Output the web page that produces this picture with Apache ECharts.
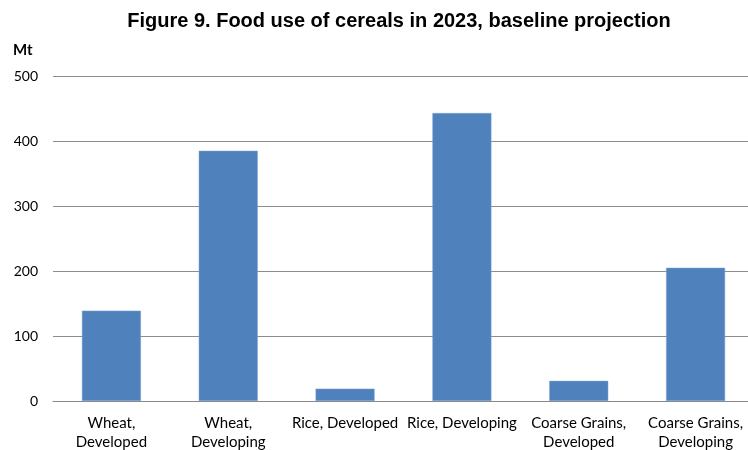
<!DOCTYPE html>
<html><head><meta charset="utf-8">
<script src="https://cdn.jsdelivr.net/npm/echarts@6/dist/echarts.min.js"></script>
<style>html,body{margin:0;padding:0;background:#fff}#c{width:748px;height:450px}</style>
</head><body><div id="c"></div>
<script>
const categories = ['Wheat,\nDeveloped','Wheat,\nDeveloping','Rice, Developed','Rice, Developing','Coarse Grains,\nDeveloped','Coarse Grains,\nDeveloping'];
const values = [139, 385, 19, 443, 31, 205];
const yTicks = [0, 100, 200, 300, 400, 500];

const chart = echarts.init(document.getElementById('c'));
chart.setOption({
  animation: false,
  backgroundColor: '#fff',
  title: {
    text: 'Figure 9. Food use of cereals in 2023, baseline projection',
    left: 394, top: 6, textAlign: 'center',
    textStyle: {fontFamily: 'Liberation Sans', fontWeight: 'bold', fontSize: 20, color: '#000'}
  },
  graphic: [{type: 'text', left: 13, top: 43, style: {text: 'Mt', font: 'bold 15px Lato', fill: '#000'}}],
  grid: {left: 53, width: 701, top: 76, height: 325, outerBoundsMode: 'none', containLabel: false},
  xAxis: {
    type: 'category', data: categories,
    axisLine: {lineStyle: {color: '#888', width: 1}},
    axisTick: {show: false},
    axisLabel: {interval: 0, color: '#000', fontFamily: 'Lato', fontSize: 15, lineHeight: 19, margin: 13}
  },
  yAxis: {
    type: 'value', min: yTicks[0], max: yTicks[yTicks.length-1], interval: 100,
    axisLine: {show: false}, axisTick: {show: false},
    splitLine: {lineStyle: {color: '#8c8c8c', width: 1}},
    axisLabel: {color: '#000', fontFamily: 'Lato', fontSize: 14, margin: 15}
  },
  series: [{
    type: 'bar', data: values, barWidth: 59,
    itemStyle: {color: '#4F81BD', borderColor: '#7EA4D3', borderWidth: 0.5}
  }]
});
</script></body></html>
